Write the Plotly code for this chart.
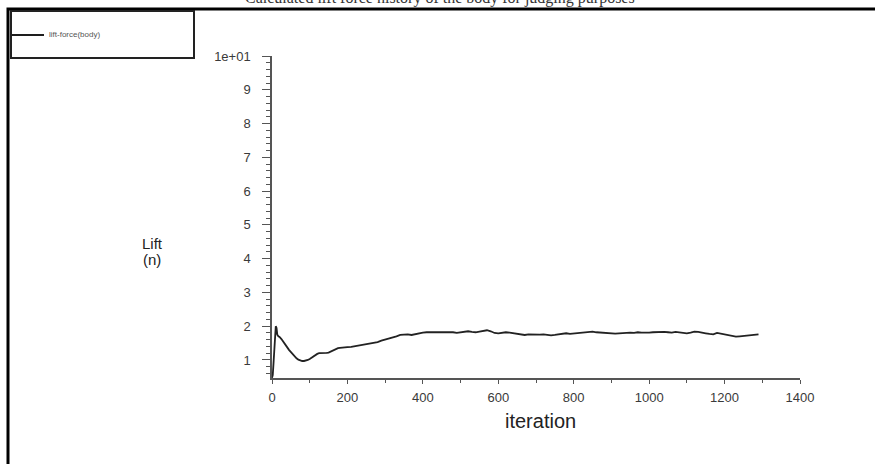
import plotly.graph_objects as go

# ---- data ----
iterations = [0, 2, 4, 6, 8, 10, 12, 14, 17, 20, 25, 30, 35, 40, 45, 50, 55, 60, 65, 70,
              75, 80, 85, 90, 95, 100, 105, 110, 115, 120, 125, 130, 135, 140, 145, 150,
              155, 160, 165, 170, 175, 180, 185, 190, 195, 200,
              210, 220, 230, 240, 250, 260, 270, 280, 290, 300, 310, 320, 330, 340, 350,
              360, 370, 380, 390, 400, 410, 420, 430, 440, 450, 460, 470, 480, 490, 500,
              510, 520, 530, 540, 550, 560, 570, 580, 590, 600, 610, 620, 630, 640, 650,
              660, 670, 680, 690, 700, 710, 720, 730, 740, 750, 760, 770, 780, 790, 800,
              810, 820, 830, 840, 850, 860, 870, 880, 890, 900, 910, 920, 930, 940, 950,
              960, 970, 980, 990, 1000, 1010, 1020, 1030, 1040, 1050, 1060, 1070, 1080,
              1090, 1100, 1110, 1120, 1130, 1140, 1150, 1160, 1170, 1180, 1190, 1200,
              1210, 1220, 1230, 1240, 1250, 1260, 1270, 1280, 1290]
lift = [0.47, 0.55, 0.9, 1.4, 1.85, 2.0, 1.95, 1.75, 1.7, 1.68, 1.62, 1.55, 1.47, 1.38, 1.3,
        1.23, 1.16, 1.1, 1.05, 1.01, 0.98, 0.97, 0.97, 0.98, 1.0, 1.03, 1.07, 1.11, 1.15,
        1.18, 1.2, 1.2, 1.19, 1.2, 1.21, 1.22, 1.25, 1.28, 1.31, 1.33, 1.35, 1.36, 1.36,
        1.37, 1.38, 1.38,
        1.39, 1.41, 1.43, 1.45, 1.46, 1.47, 1.49, 1.53, 1.57, 1.6, 1.62, 1.66, 1.7, 1.74,
        1.75, 1.76, 1.74, 1.77, 1.79, 1.81, 1.82, 1.82, 1.81, 1.82, 1.83, 1.82, 1.81,
        1.82, 1.8, 1.82, 1.84, 1.85, 1.83, 1.82, 1.84, 1.86, 1.88, 1.85, 1.8, 1.79, 1.81,
        1.82, 1.81, 1.79, 1.77, 1.75, 1.74, 1.76, 1.75, 1.74, 1.75, 1.76, 1.74, 1.73,
        1.74, 1.76, 1.78, 1.79, 1.77, 1.78, 1.79, 1.8, 1.82, 1.83, 1.84, 1.82, 1.81, 1.8,
        1.81, 1.79, 1.78, 1.79, 1.8, 1.8, 1.81, 1.8, 1.82, 1.81, 1.8, 1.81, 1.82, 1.83,
        1.82, 1.83, 1.82, 1.81, 1.83, 1.82, 1.8, 1.79, 1.81, 1.84, 1.83, 1.8, 1.79, 1.77,
        1.76, 1.8, 1.78, 1.76, 1.72, 1.7, 1.69, 1.7, 1.71, 1.71, 1.72, 1.75, 1.76]

x_tickvals = [0, 200, 400, 600, 800, 1000, 1200, 1400]
y_tickvals = [1, 2, 3, 4, 5, 6, 7, 8, 9, 10]
y_ticktext = ["1", "2", "3", "4", "5", "6", "7", "8", "9", "1e+01"]
series_name = "lift-force(body)"
title_text = "Calculated lift force history of the body for judging purposes"

W, H = 875, 464
ML, MR, MT, MB = 272, 75, 56, 86
PW, PH = W - ML - MR, H - MT - MB


def px(x):
    return (x - ML) / PW


def py(y):
    return (H - MB - y) / PH


fig = go.Figure()
fig.add_trace(go.Scatter(x=iterations, y=lift, mode="lines", name=series_name,
                         line=dict(color="#222222", width=1.8), showlegend=False))

axis_col = "#555555"
tick_font = dict(family="Arial, Liberation Sans, sans-serif", size=13, color="#3a3a3a")

fig.update_layout(
    width=W, height=H,
    margin=dict(l=ML, r=MR, t=MT, b=MB),
    paper_bgcolor="white", plot_bgcolor="white",
    xaxis=dict(range=[0, 1400], tickvals=x_tickvals, showgrid=False, zeroline=False,
               showline=True, linecolor=axis_col, linewidth=1.5,
               ticks="outside", ticklen=4, tickwidth=1.2, tickcolor=axis_col,
               tickfont=tick_font, ticklabelstandoff=3,
               minor=dict(dtick=100, ticks="outside", ticklen=3, tickcolor=axis_col)),
    yaxis=dict(range=[0.466, 10.0], tickvals=y_tickvals, ticktext=y_ticktext,
               showgrid=False, zeroline=False, showline=True, linecolor=axis_col,
               linewidth=1.5, ticks="outside", ticklen=8, tickwidth=1.2,
               tickcolor=axis_col, tickfont=tick_font, ticklabelstandoff=9,
               minor=dict(dtick=0.2, tick0=0, ticks="outside", ticklen=4,
                          tickcolor=axis_col)),
)

shapes = [
    # outer frame
    dict(type="rect", xref="paper", yref="paper", x0=px(8), x1=px(905), y0=py(500), y1=py(9),
         line=dict(color="black", width=3), fillcolor="rgba(0,0,0,0)"),
    # legend box
    dict(type="rect", xref="paper", yref="paper", x0=px(11), x1=px(194), y0=py(58), y1=py(11),
         line=dict(color="#222222", width=2), fillcolor="rgba(0,0,0,0)"),
    # legend sample line
    dict(type="line", xref="paper", yref="paper", x0=px(12), x1=px(44), y0=py(35), y1=py(35),
         line=dict(color="#1e1e1e", width=2)),
]
fig.update_layout(shapes=shapes)

ann = [
    dict(text=series_name, x=px(47), y=py(35), xref="paper", yref="paper",
         xanchor="left", yanchor="middle", showarrow=False,
         font=dict(family="Arial, Liberation Sans, sans-serif", size=8, color="#555555")),
    dict(text="Lift", x=px(152), y=py(243), xref="paper", yref="paper",
         xanchor="center", yanchor="middle", showarrow=False,
         font=dict(family="Arial, Liberation Sans, sans-serif", size=15, color="#222222")),
    dict(text="(n)", x=px(152), y=py(259), xref="paper", yref="paper",
         xanchor="center", yanchor="middle", showarrow=False,
         font=dict(family="Arial, Liberation Sans, sans-serif", size=15, color="#222222")),
    dict(text="iteration", x=px(540), y=py(421), xref="paper", yref="paper",
         xanchor="center", yanchor="middle", showarrow=False,
         font=dict(family="Arial, Liberation Sans, sans-serif", size=20, color="#222222")),
    dict(text=title_text, x=px(440), y=py(-2), xref="paper", yref="paper",
         xanchor="center", yanchor="middle", showarrow=False,
         font=dict(family="Liberation Serif, Times New Roman, serif", size=16, color="#333333")),
]
fig.update_layout(annotations=ann)

fig.write_html("out.html")
